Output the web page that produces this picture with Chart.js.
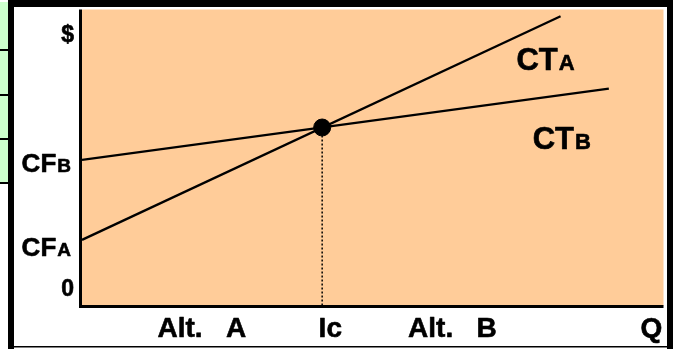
<!DOCTYPE html>
<html>
<head>
<meta charset="utf-8">
<script src="https://cdn.jsdelivr.net/npm/chart.js@4/dist/chart.umd.min.js"></script>
<style>
  html, body { margin: 0; padding: 0; background: #fff; }
  canvas { display: block; }
</style>
</head>
<body>
<canvas id="c" width="673" height="349"></canvas>
<script>
// ---- data (chart value units: x = quantity 0..100, y = cost 0..100) ----
const ctA = [{x: 0, y: 22.3}, {x: 82.3, y: 97.7}];     // CT_A line
const ctB = [{x: 0, y: 49.3}, {x: 90.6, y: 73.3}];     // CT_B line
const breakEven = [{x: 41.3, y: 60.2}];                // intersection point (Ic)
const dropLine = [{x: 41.3, y: 60.2}, {x: 41.3, y: 0}]; // dotted drop line
const yTickLabels = [['0', ''], ['CF', 'A'], ['CF', 'B'], ['$', '']];
const yTickValues = [6, 20, 48.5, 91.7];
const xTickLabels = ['Alt.   A', 'Ic', 'Alt.   B', 'Q'];
const xTickValues = [20.6, 42.7, 63.7, 97.9];
const seriesLabels = [['CT', 'A'], ['CT', 'B']];
const seriesLabelAnchors = [{x: 74.7, y: 79.7}, {x: 77.5, y: 53}];

const FONT = '"Liberation Sans", Arial, sans-serif';

function txt(ctx, s, x, y) {
  ctx.fillText(s, x, y);
  ctx.strokeText(s, x, y);
}

function drawSub(ctx, main, sub, x, baseline, mainSize, subSize, align) {
  ctx.font = 'bold ' + mainSize + 'px ' + FONT;
  const w1 = ctx.measureText(main).width;
  ctx.font = 'bold ' + subSize + 'px ' + FONT;
  const w2 = sub ? ctx.measureText(sub).width + 1 : 0;
  let left = x;
  if (align === 'right') left = x - w1 - w2;
  if (align === 'center') left = x - (w1 + w2) / 2;
  ctx.textAlign = 'left';
  ctx.textBaseline = 'alphabetic';
  ctx.font = 'bold ' + mainSize + 'px ' + FONT;
  txt(ctx, main, left, baseline);
  if (sub) {
    ctx.font = 'bold ' + subSize + 'px ' + FONT;
    txt(ctx, sub, left + w1 + 1, baseline);
  }
}

const decor = {
  id: 'decor',
  beforeDraw(chart) {
    const ctx = chart.ctx, a = chart.chartArea;
    const W = chart.width, H = chart.height;
    ctx.save();
    ctx.fillStyle = '#ffffff';
    ctx.fillRect(0, 0, W, H);
    // spreadsheet cells at the far left
    ctx.fillStyle = '#CCFFCC';
    ctx.fillRect(0, 2, 8, 182);
    ctx.fillStyle = '#000';
    [50, 95, 139, 183].forEach(y => ctx.fillRect(0, y - 1, 8, 2));
    // frame
    ctx.fillRect(8, 0, 6, H);
    ctx.fillRect(8, 0, W - 8, 7);
    ctx.fillRect(W - 6, 0, 6, H);
    ctx.fillRect(8, H - 3, W - 8, 1.5);
    // plot area
    ctx.fillStyle = '#FFCC99';
    ctx.fillRect(a.left, a.top, a.right - a.left, a.bottom - a.top);
    ctx.fillStyle = '#000';
    ctx.fillRect(a.left - 3, a.top, 3, a.bottom - a.top + 2);
    ctx.fillRect(a.left - 3, a.bottom - 1, a.right - a.left + 3, 3);
    ctx.restore();
  },
  afterDraw(chart) {
    const ctx = chart.ctx, a = chart.chartArea;
    const xs = chart.scales.x, ys = chart.scales.y;
    ctx.save();
    ctx.fillStyle = '#000';
    ctx.strokeStyle = '#000';
    ctx.lineWidth = 0.6;
    ctx.lineJoin = 'round';
    // y labels
    yTickLabels.forEach((lab, i) => {
      const cy = ys.getPixelForValue(yTickValues[i]);
      const size = lab[1] ? 26 : 23;
      const right = lab[1] ? a.left - 11 : a.left - 8;
      drawSub(ctx, lab[0], lab[1], right, cy + size * 0.716 / 2, size, 19, 'right');
    });
    // x labels
    xTickLabels.forEach((lab, i) => {
      ctx.font = 'bold 28px ' + FONT;
      ctx.textAlign = 'center';
      ctx.textBaseline = 'alphabetic';
      txt(ctx, lab, xs.getPixelForValue(xTickValues[i]), a.bottom + 31);
    });
    // series labels
    seriesLabels.forEach((lab, i) => {
      const p = seriesLabelAnchors[i];
      drawSub(ctx, lab[0], lab[1], xs.getPixelForValue(p.x), ys.getPixelForValue(p.y), 31, 22, 'left');
    });
    ctx.restore();
  }
};

new Chart(document.getElementById('c'), {
  type: 'scatter',
  data: {
    datasets: [
      { data: dropLine, showLine: true, borderColor: '#000', borderWidth: 1.5, borderDash: [2, 2], pointRadius: 0, order: 3 },
      { data: ctA, showLine: true, borderColor: '#000', borderWidth: 2.3, pointRadius: 0, order: 2 },
      { data: ctB, showLine: true, borderColor: '#000', borderWidth: 2.3, pointRadius: 0, order: 2 },
      { data: breakEven, showLine: false, pointRadius: 8.5, pointBackgroundColor: '#000', pointBorderColor: '#000', pointBorderWidth: 1, order: 1 }
    ]
  },
  options: {
    responsive: false,
    animation: false,
    events: [],
    layout: { padding: { left: 82, right: 6, top: 7, bottom: 43 } },
    plugins: { legend: { display: false }, tooltip: { enabled: false } },
    scales: {
      x: { type: 'linear', min: 0, max: 100, display: false },
      y: { type: 'linear', min: 0, max: 100, display: false }
    }
  },
  plugins: [decor]
});
</script>
</body>
</html>
